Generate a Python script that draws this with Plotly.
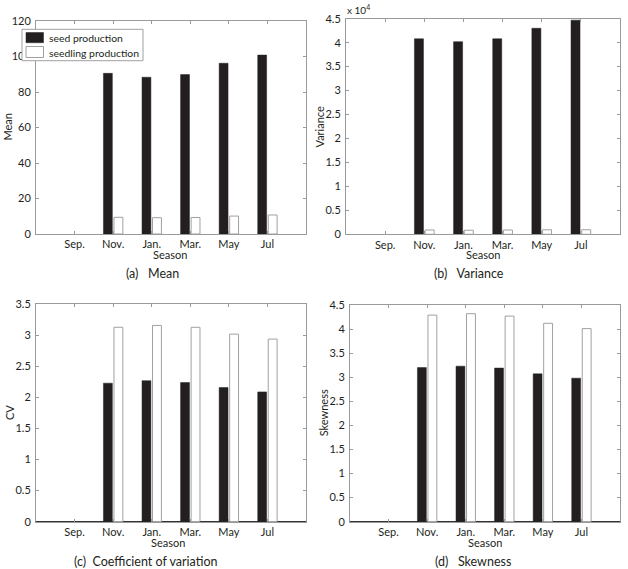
import plotly.graph_objects as go

seasons = ["Sep.", "Nov.", "Jan.", "Mar.", "May", "Jul"]

mean_seed = [0, 90.5, 88.3, 89.8, 96.2, 100.8]
mean_seedling = [0, 9.4, 9.2, 9.3, 10.1, 10.7]

var_seed = [0, 40800, 40200, 40800, 43000, 44700]
var_seedling = [0, 900, 850, 900, 950, 950]

cv_seed = [0, 2.23, 2.27, 2.24, 2.16, 2.09]
cv_seedling = [0, 3.13, 3.16, 3.13, 3.02, 2.94]

skew_seed = [0, 3.20, 3.23, 3.19, 3.07, 2.98]
skew_seedling = [0, 4.29, 4.32, 4.27, 4.12, 4.01]

series_names = ["seed production", "seedling production"]
captions = ["(a)   Mean", "(b)   Variance", "(c)  Coefficient of variation", "(d)   Skewness"]
ytitles = ["Mean", "Variance", "CV", "Skewness"]

W, H = 628, 569
FONT = "Lato"
TXT = "#231f20"
AX = "#9a9a9a"
SEED = "#231f20"

def px(x):
    return x / W

def py(y):
    return 1 - y / H

panels = [
    dict(data=(mean_seed, mean_seedling), xd=(36, 306), yd=(21, 234), yr=[0, 120],
         tv=[0, 20, 40, 60, 80, 100, 120], tt=None),
    dict(data=(var_seed, var_seedling), xd=(346, 620), yd=(18.7, 234.3), yr=[0, 45000],
         tv=[i * 5000 for i in range(10)], tt=["0", "0.5", "1", "1.5", "2", "2.5", "3", "3.5", "4", "4.5"]),
    dict(data=(cv_seed, cv_seedling), xd=(36, 306), yd=(304.3, 521.7), yr=[0, 3.5],
         tv=[0, 0.5, 1, 1.5, 2, 2.5, 3, 3.5], tt=["0", "0.5", "1", "1.5", "2", "2.5", "3", "3.5"]),
    dict(data=(skew_seed, skew_seedling), xd=(350, 620), yd=(305, 521.7), yr=[0, 4.5],
         tv=[0, 0.5, 1, 1.5, 2, 2.5, 3, 3.5, 4, 4.5], tt=["0", "0.5", "1", "1.5", "2", "2.5", "3", "3.5", "4", "4.5"]),
]

fig = go.Figure()
layout = {}
annotations = []
shapes = []

ytitle_x = [7, 319, 9, 323]
caption_pos = [(152, 273), (469, 273), (146, 561), (473, 561)]
season_pos = [(170, 254), (483, 254), (168, 542), (485, 542)]

for i, p in enumerate(panels):
    n = "" if i == 0 else str(i + 1)
    xa, ya = "x" + n, "y" + n
    seed, seedling = p["data"]
    fig.add_trace(go.Bar(x=seasons, y=seed, name=series_names[0], xaxis=xa, yaxis=ya,
                         marker=dict(color=SEED,
                                     line=dict(color=SEED, width=[0 if v == 0 else 0.5 for v in seed])),
                         showlegend=False))
    fig.add_trace(go.Bar(x=seasons, y=seedling, name=series_names[1], xaxis=xa, yaxis=ya,
                         marker=dict(color="white",
                                     line=dict(color="#a0a0a0", width=[0 if v == 0 else 1 for v in seedling])),
                         showlegend=False))
    layout["xaxis" + n] = dict(
        domain=[px(p["xd"][0]), px(p["xd"][1])], anchor=ya, type="category",
        categoryorder="array", categoryarray=seasons, range=[-1, 6],
        showline=True, linecolor=AX, linewidth=1, mirror="ticks",
        ticks="inside", ticklen=3, tickcolor=AX, showgrid=False, automargin=False,
        tickfont=dict(family=FONT, size=11, color=TXT),
    )
    yd = dict(
        domain=[py(p["yd"][1]), py(p["yd"][0])], anchor=xa, range=p["yr"],
        tickvals=p["tv"], showline=True, linecolor=AX, linewidth=1, mirror="ticks",
        ticks="inside", ticklen=3, tickcolor=AX, showgrid=False, automargin=False,
        zeroline=True, zerolinecolor="#333333", zerolinewidth=1.2,
        tickfont=dict(family=FONT, size=11, color=TXT), ticklabelstandoff=2,
    )
    if p["tt"] is not None:
        yd["ticktext"] = p["tt"]
    layout["yaxis" + n] = yd
    ymid = (p["yd"][0] + p["yd"][1]) / 2
    annotations.append(dict(text=ytitles[i], x=px(ytitle_x[i]), y=py(ymid), xref="paper", yref="paper",
                            textangle=-90, showarrow=False, xanchor="center", yanchor="middle",
                            font=dict(family=FONT, size=11, color=TXT)))
    sx, sy = season_pos[i]
    annotations.append(dict(text="Season", x=px(sx), y=py(sy), xref="paper", yref="paper",
                            showarrow=False, xanchor="center", yanchor="middle",
                            font=dict(family=FONT, size=11, color=TXT)))
    cx, cy = caption_pos[i]
    annotations.append(dict(text=captions[i], x=px(cx), y=py(cy), xref="paper", yref="paper",
                            showarrow=False, xanchor="center", yanchor="middle",
                            font=dict(family=FONT, size=12.5, color=TXT)))

# x 10^4 multiplier for variance panel
annotations.append(dict(text="x 10<sup>4</sup>", x=px(345), y=py(10), xref="paper", yref="paper",
                        showarrow=False, xanchor="left", yanchor="middle",
                        font=dict(family=FONT, size=10, color=TXT)))

# legend box in panel (a)
shapes.append(dict(type="rect", xref="paper", yref="paper", x0=px(22), x1=px(143), y0=py(60.7), y1=py(29.3),
                   fillcolor="white", line=dict(color="#a0a0a0", width=1), layer="above"))
shapes.append(dict(type="rect", xref="paper", yref="paper", x0=px(26), x1=px(43.5), y0=py(42.7), y1=py(32.5),
                   fillcolor=SEED, line=dict(color=SEED, width=0.5), layer="above"))
shapes.append(dict(type="rect", xref="paper", yref="paper", x0=px(26), x1=px(43.5), y0=py(57.5), y1=py(46.5),
                   fillcolor="white", line=dict(color="#a0a0a0", width=1), layer="above"))
annotations.append(dict(text=series_names[0], x=px(46.5), y=py(38), xref="paper", yref="paper",
                        showarrow=False, xanchor="left", yanchor="middle",
                        font=dict(family=FONT, size=10.4, color=TXT)))
annotations.append(dict(text=series_names[1], x=px(46.5), y=py(52.5), xref="paper", yref="paper",
                        showarrow=False, xanchor="left", yanchor="middle",
                        font=dict(family=FONT, size=10.4, color=TXT)))

fig.update_layout(
    width=W, height=H, margin=dict(l=0, r=0, t=0, b=0),
    paper_bgcolor="white", plot_bgcolor="white",
    barmode="group", bargap=0.455, bargroupgap=0.155,
    showlegend=False, annotations=annotations, shapes=shapes,
    **layout,
)

fig.write_html("out.html", config={"displayModeBar": False},
               post_script="document.body.style.margin='0px';document.body.style.padding='0px';document.body.style.overflow='hidden';")
